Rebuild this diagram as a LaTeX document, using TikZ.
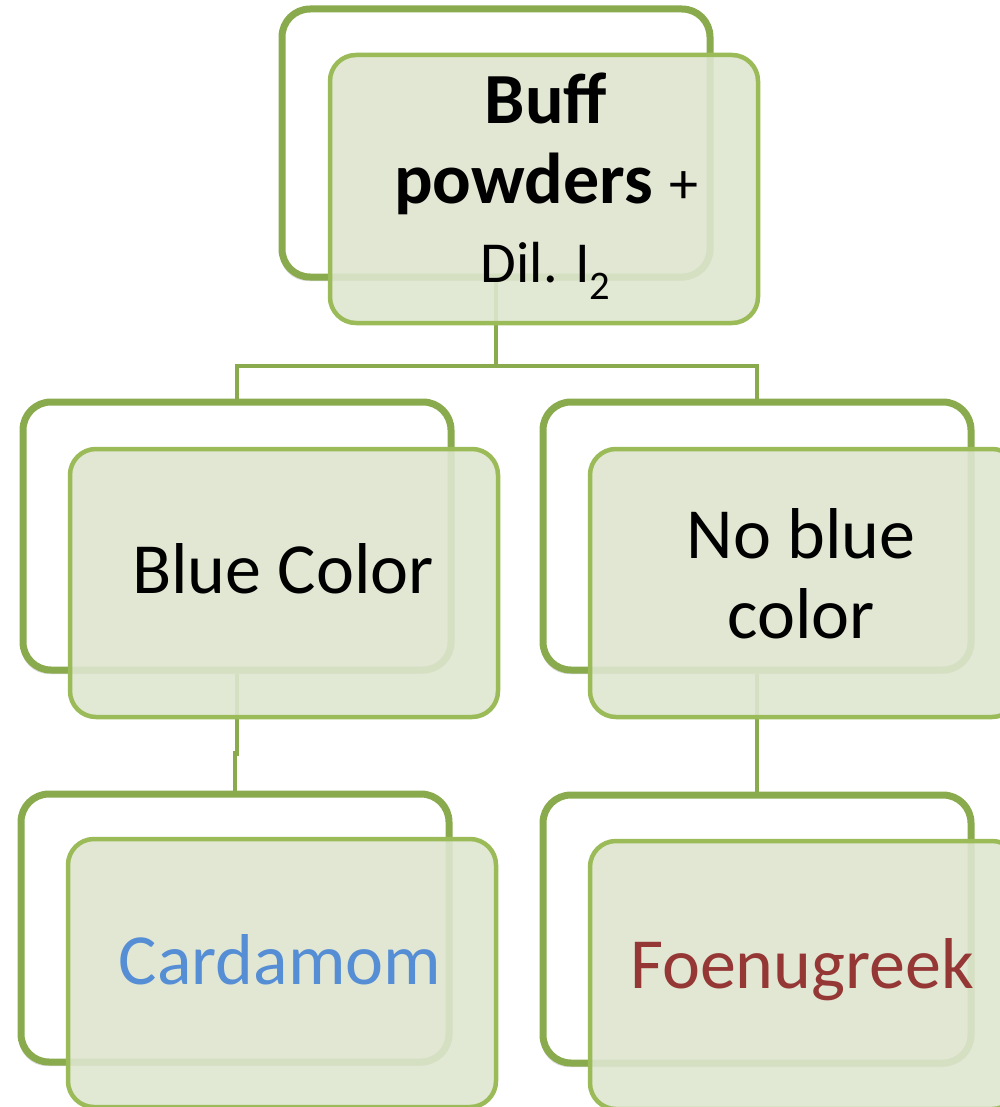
\documentclass[tikz,border=0pt]{standalone}
\usepackage{fontspec}
\setmainfont{Carlito}
\usetikzlibrary{shadows}
\definecolor{backline}{HTML}{8AAA4E}
\definecolor{frontline}{HTML}{9BBB59}
\definecolor{frontfill}{HTML}{DEE5CF}
\definecolor{cardblue}{HTML}{558ED5}
\definecolor{fenred}{HTML}{953735}
\begin{document}
\begin{tikzpicture}[x=1pt,y=-1pt,
  backbox/.style={rectangle, draw=backline, line width=7pt, fill=white,
    rounded corners=28pt, inner sep=0pt, minimum width=428pt, minimum height=268pt,
    drop shadow={shadow xshift=-2pt, shadow yshift=-4pt, opacity=0.25, fill=black!60}},
  frontbox/.style={rectangle, draw=frontline, line width=4.5pt, fill=frontfill,
    fill opacity=0.9, draw opacity=1, rounded corners=26pt, inner sep=0pt,
    minimum width=428pt, minimum height=268pt},
  conn/.style={draw=backline, line width=4.5pt},
  lbl/.style={anchor=base, inner sep=0pt, align=center,
    font=\fontsize{72}{80}\selectfont}]
\useasboundingbox (0,0) rectangle (1000,1107);
\clip (0,0) rectangle (1000,1107);
\coordinate (bus) at (0,366);
% back boxes
\node[backbox] (tb) at (496,143) {};
\node[backbox] (lb) at (237,536) {};
\node[backbox] (rb) at (757,536) {};
\node[backbox] (lbb) at (235,928) {};
\node[backbox] (rbb) at (757,929) {};
% connectors
\draw[conn] (tb.south) |- (lb.north |- bus) -- (lb.north);
\draw[conn] (tb.south) |- (rb.north |- bus) -- (rb.north);
\draw[conn] (lb.south) -- ++(0,80) -| (lbb.north);
\draw[conn] (rb.south) -- (rbb.north);
% front boxes
\node[frontbox] (tf) at (544,189) {};
\node[frontbox] (lf) at (284,583) {};
\node[frontbox] (rf) at (804,583) {};
\node[frontbox] (lbf) at (282,973) {};
\node[frontbox] (rbf) at (804,975) {};
% texts (base anchor = baseline of the last line)
\node[lbl, font=\fontsize{72}{79}\selectfont] (tt) at (546,282)
  {\textbf{Buff}\\\textbf{powders} {\fontsize{58}{79}\selectfont +}\\{\fontsize{58}{79}\selectfont Dil. I\textsubscript{2}}};
\node[lbl] (lt) at (283,593) {Blue Color};
\node[lbl] (rt) at (801,638) {No blue\\color};
\node[lbl, text=cardblue] (lbt) at (280,984) {Cardamom};
\node[lbl, text=fenred] (rbt) at (802,988) {Foenugreek};
\end{tikzpicture}
\end{document}
